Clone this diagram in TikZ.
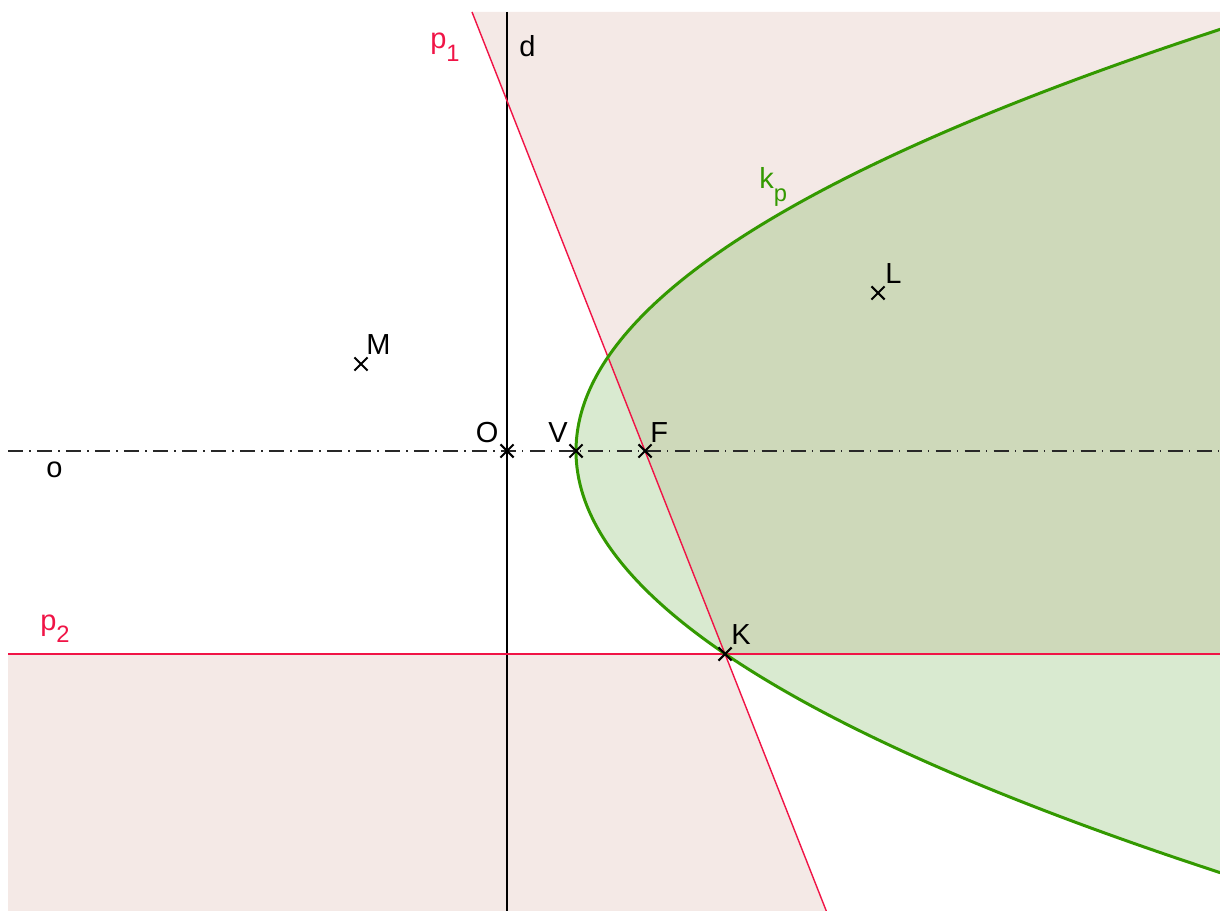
\documentclass[tikz,border=0pt]{standalone}
\usepackage{fontspec}
\setmainfont{Liberation Sans}
\usetikzlibrary{shapes.misc}
\definecolor{pinkfill}{RGB}{244,233,230}
\definecolor{greenfill}{RGB}{217,234,208}
\definecolor{overfill}{RGB}{206,217,186}
\definecolor{kgreen}{RGB}{51,153,0}
\definecolor{pred}{RGB}{240,20,70}
\definecolor{axisgray}{RGB}{40,40,40}
\newcommand{\lsub}[2][7.2pt]{\raisebox{-#1}{\fontsize{13.5}{13.5}\selectfont #2}}
\begin{document}
\begin{tikzpicture}[x=0.02cm,y=-0.02cm,
  lbl/.style={inner sep=0pt, anchor=base west, font=\fontsize{16.5}{19}\selectfont},
  xmark/.style={cross out, draw=black, line width=1.2pt, minimum size=0.22cm, inner sep=0pt},
  redline/.style={draw=pred, line width=0.8pt},
  dirline/.style={draw=black, line width=1.15pt},
  axisline/.style={draw=axisgray, line width=0.85pt, dash pattern=on 8.5pt off 3.6pt on 0.8pt off 3.6pt},
  parab/.style={draw=kgreen, line width=1.7pt}]
\useasboundingbox (0,0) rectangle (1220,911);
% named coordinates
\coordinate (O) at (507,451);
\coordinate (V) at (576,451);
\coordinate (F) at (645,451);
\coordinate (K) at (725,654);
\coordinate (L) at (878,293);
\coordinate (M) at (361,364);
\coordinate (dtop) at (507,12);
\coordinate (dbot) at (507,911);
\coordinate (oleft) at (8,451);
\coordinate (oright) at (1220,451);
\coordinate (ptwoleft) at (8,654);
\coordinate (ptworight) at (1220,654);
\coordinate (ponetop) at (472,12);
\coordinate (ponebot) at (826.3,911);
\begin{scope}
  \clip (8,12) rectangle (1220,911);
  % pink half-plane regions
  \fill[pinkfill] (ponetop) -- (1220,12) -- (ptworight) -- (K) -- cycle;
  \fill[pinkfill] (ptwoleft) -- (K) -- (ponebot) -- (8,911) -- cycle;
  % parabola interior
  \fill[greenfill] plot[domain=-44.5:46.5, samples=200] ({576+\x*\x/2.76},{451+10*\x}) -- cycle;
  \begin{scope}
    \clip plot[domain=-44.5:46.5, samples=200] ({576+\x*\x/2.76},{451+10*\x}) -- cycle;
    \fill[overfill] (ponetop) -- (1220,12) -- (ptworight) -- (K) -- cycle;
    \fill[overfill] (ptwoleft) -- (K) -- (ponebot) -- (8,911) -- cycle;
  \end{scope}
  % lines
  \draw[axisline] (oleft) -- (oright);
  \draw[dirline] (dtop) -- (dbot);
  \draw[redline] (ptwoleft) -- (ptworight);
  \draw[redline] (ponetop) -- (ponebot);
  \draw[parab] plot[domain=-44.5:46.5, samples=200] ({576+\x*\x/2.76},{451+10*\x});
\end{scope}
% point marks
\foreach \p in {O,V,F,K,L,M} \node[xmark] (m\p) at (\p) {};
% labels
\node[lbl, text=pred] (lpone) at (430,48.5) {p\lsub{1}};
\node[lbl] (ld) at (519,57) {d};
\node[lbl, text=kgreen] (lk) at (759,188.5) {k\lsub{p}};
\node[lbl] (lL) at (885,284) {L};
\node[lbl] (lM) at (366,355) {M};
\node[lbl] (lO) at (475.5,443) {O};
\node[lbl] (lV) at (548,443) {V};
\node[lbl] (lF) at (650,443) {F};
\node[lbl] (lK) at (731,644) {K};
\node[lbl] (lo) at (46,478) {o};
\node[lbl, text=pred] (lptwo) at (40,630) {p\lsub{2}};
\end{tikzpicture}
\end{document}
